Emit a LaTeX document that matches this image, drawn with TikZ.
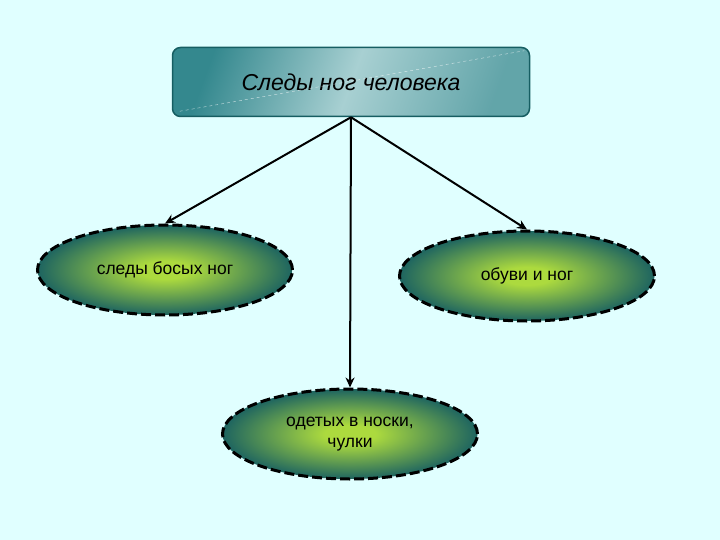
\documentclass[tikz,border=0pt]{standalone}
\usepackage{fontspec}
\setmainfont{Liberation Sans}
\usetikzlibrary{shapes.geometric,arrows.meta}

\definecolor{bgcyan}{RGB}{224,255,255}
\definecolor{darkteal}{RGB}{22,94,98}
\definecolor{limegreen}{RGB}{172,218,62}
\definecolor{boxteal}{RGB}{52,136,142}
\definecolor{boxlight}{RGB}{168,208,210}
\pgfdeclareradialshading{ovalglow}{\pgfpoint{0bp}{0bp}}{color(0bp)=(limegreen); color(5bp)=(limegreen); color(26bp)=(darkteal); color(50bp)=(darkteal)}

\begin{document}
\begin{tikzpicture}[x=1pt, y=-1pt,
                    titlenode/.style={rectangle, rounded corners=8pt, draw=darkteal, line width=1.5pt, minimum width=357pt, minimum height=69pt,
                                      left color=boxteal, right color=boxteal!60!boxlight, middle color=boxlight, shading angle=70,
                                      font=\itshape\fontsize{23}{27}\selectfont},
                    ovalnode/.style={ellipse, draw=black, line width=3pt, dash pattern=on 10pt off 4pt, shading=ovalglow,
                                     minimum width=255pt, minimum height=90pt, align=center, font=\fontsize{17.5}{21}\selectfont},
                    linkarrow/.style={line width=2pt, -{Stealth[length=10pt, width=9pt]}}]
                    \useasboundingbox (0,0) rectangle (720,540);
                    \fill[bgcyan] (0,0) rectangle (720,540);

                    \node[titlenode] (human) at (351,82) {Следы ног человека};
                    \node[ovalnode] (barefoot) at (165,270) {следы босых ног};
                    \node[ovalnode] (shoes) at (527,276) {обуви и ног};
                    \node[ovalnode] (socks) at (350,434) {одетых в носки,\\чулки};

                    \draw[white, thin, dashed, opacity=0.7] ([xshift=8pt, yshift=6pt]human.south west) -- ([xshift=-6pt, yshift=-4pt]human.north east);

                    \draw[linkarrow] (human.south) -- (barefoot.north);
                    \draw[linkarrow] (human.south) -- (shoes.north);
                    \draw[linkarrow] (human.south) -- (socks.north);
                    \end{tikzpicture}
\end{document}
